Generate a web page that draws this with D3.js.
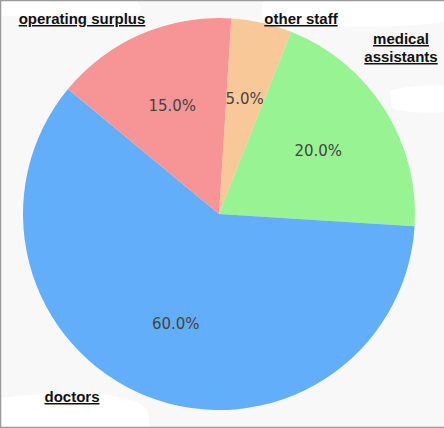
<!DOCTYPE html>
<html><head><meta charset="utf-8">
<script src="https://cdn.jsdelivr.net/npm/d3@7"></script>
<style>html,body{margin:0;padding:0;background:#f8f8f8;}svg{display:block;}</style>
</head><body>
<svg id="c" width="444" height="428"></svg>
<script>
const categories = ["other staff", "medical assistants", "doctors", "operating surplus"];
const values = [5, 20, 60, 15];
const colors = ["#f9c898", "#98f393", "#62aefa", "#f79496"];

const W = 444, H = 428, cx = 219, cy = 214, R = 196;
const svg = d3.select("#c");
svg.append("rect").attr("width", W).attr("height", H).attr("fill", "#f8f8f8");
// white patches of the background
svg.append("path").attr("fill", "#ffffff").attr("d", "M0,0 L135,0 Q145,8 138,14 L0,16 Z");
svg.append("path").attr("fill", "#ffffff").attr("d", "M262,0 L444,0 L444,22 Q400,28 340,26 L262,20 Z");
svg.append("path").attr("fill", "#ffffff").attr("d", "M390,90 Q420,84 444,86 L444,112 Q410,114 392,108 Z");
svg.append("path").attr("fill", "#ffffff").attr("d", "M0,398 Q40,392 100,394 Q145,400 148,412 L150,428 L0,428 Z");
// border
svg.append("path").attr("d", "M444,0.5 L0.5,0.5 L0.5,427.5 L444,427.5").attr("fill", "none").attr("stroke", "#9a9a9a").attr("stroke-width", 1.5);

const offset = 0.01 * 2 * Math.PI;
const pie = d3.pie().sort(null).value(d => d).startAngle(offset).endAngle(offset + 2 * Math.PI);
const arcs = pie(values);
const arc = d3.arc().innerRadius(0).outerRadius(R);
const labelArc = d3.arc().innerRadius(R * 0.6).outerRadius(R * 0.6);
const g = svg.append("g").attr("transform", `translate(${cx},${cy})`);
g.selectAll("path.s").data(arcs).enter().append("path").attr("class", "s")
  .attr("d", arc).attr("fill", (d, i) => colors[i]);
g.selectAll("text.p").data(arcs).enter().append("text").attr("class", "p")
  .attr("transform", d => `translate(${labelArc.centroid(d)})`)
  .attr("text-anchor", "middle").attr("dy", "0.35em")
  .attr("font-family", "DejaVu Sans").attr("font-size", 15).attr("fill", "#444")
  .text(d => (d.value / d3.sum(values) * 100).toFixed(1) + "%");

// outer labels
const labelPos = [
  {x: 301, y: 24, lines: ["other staff"]},
  {x: 401, y: 44, lines: ["medical", "assistants"]},
  {x: 72, y: 402, lines: ["doctors"]},
  {x: 82, y: 24, lines: ["operating surplus"]}
];
categories.forEach((c, i) => {
  const p = labelPos[i];
  const t = svg.append("text").attr("x", p.x).attr("y", p.y).attr("text-anchor", "middle")
    .attr("font-family", "Liberation Sans, Arial, sans-serif").attr("font-weight", "bold")
    .attr("font-size", 15).attr("text-decoration", "underline").attr("fill", "#111");
  p.lines.forEach((l, j) => t.append("tspan").attr("x", p.x).attr("dy", j ? 18 : 0).text(l));
});
</script>
</body></html>
